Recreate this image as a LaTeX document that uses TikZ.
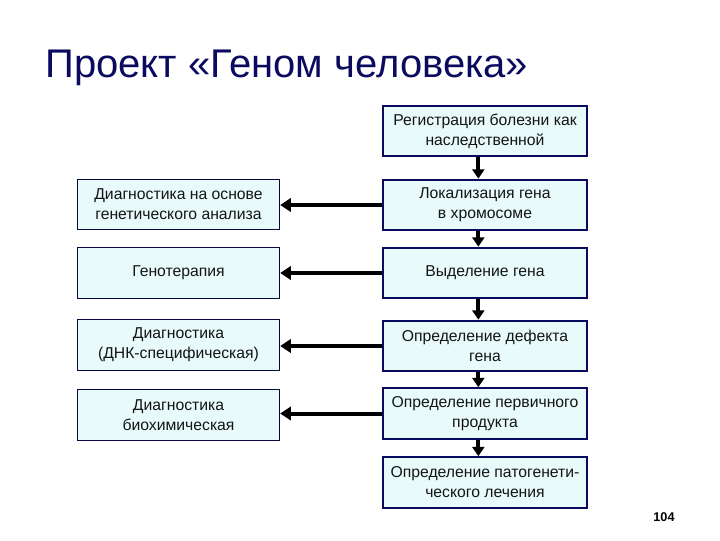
\documentclass[tikz,border=0pt]{standalone}
\usepackage{fontspec}
\setmainfont{Liberation Sans}
\usetikzlibrary{arrows.meta}
\definecolor{navy}{HTML}{0A0A5E}
\definecolor{boxfill}{HTML}{E8FAFA}
\definecolor{txt}{HTML}{141414}
\tikzset{
  rbox/.style={draw=navy, line width=1.5pt, fill=boxfill, minimum width=153pt, minimum height=38pt, inner sep=0pt, align=center, font=\fontsize{11.8pt}{15pt}\selectfont, text=txt},
  lbox/.style={draw=navy!70!black, line width=0.6pt, fill=boxfill, minimum width=152pt, minimum height=38pt, inner sep=0pt, align=center, font=\fontsize{11.8pt}{15pt}\selectfont, text=txt},
  harrow/.style={line width=3pt, -{Triangle[length=8pt,width=10pt]}},
  varrow/.style={line width=3pt, -{Triangle[length=7pt,width=9pt]}}
}
\begin{document}
\begin{tikzpicture}[x=0.75pt,y=-0.75pt]
\useasboundingbox (0,0) rectangle (720,540);
\node[anchor=base west, text=navy, font=\fontsize{30pt}{36pt}\selectfont, inner sep=0pt] (title) at (45,77) {Проект «Геном человека»};
\node[rbox] (r1) at (485,131) {Регистрация болезни как\\наследственной};
\node[rbox] (r2) at (485,205) {Локализация гена\\в хромосоме};
\node[rbox] (r3) at (485,273) {Выделение гена};
\node[rbox] (r4) at (485,346) {Определение дефекта\\гена};
\node[rbox] (r5) at (485,413.5) {Определение первичного\\продукта};
\node[rbox] (r6) at (485,482.5) {Определение патогенети-\\ческого лечения};
\node[lbox] (l1) at (178.5,204.5) {Диагностика на основе\\генетического анализа};
\node[lbox] (l2) at (178.5,273) {Генотерапия};
\node[lbox] (l3) at (178.5,345) {Диагностика\\(ДНК-специфическая)};
\node[lbox] (l4) at (178.5,415) {Диагностика\\биохимическая};
\foreach \a/\b in {r1/r2,r2/r3,r3/r4,r4/r5,r5/r6}
  \draw[varrow] ([xshift=-5pt]\a.south) -- ([xshift=-5pt]\b.north);
\foreach \a/\b in {r2/l1,r3/l2,r4/l3,r5/l4}
  \draw[harrow] (\a.west) -- (\a.west -| \b.east);
\node[font=\bfseries\fontsize{9.5pt}{11pt}\selectfont, anchor=base, inner sep=0pt] (pg) at (664,521) {104};
\end{tikzpicture}
\end{document}
